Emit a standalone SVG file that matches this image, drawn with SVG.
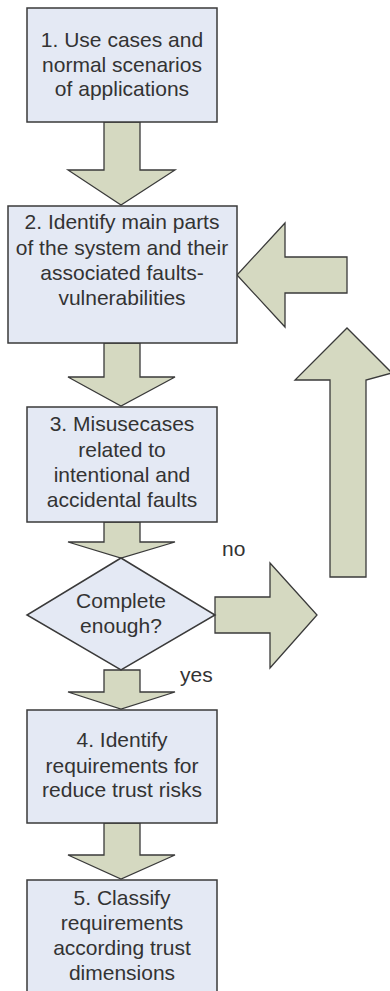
<svg xmlns="http://www.w3.org/2000/svg" width="390" height="991" viewBox="0 0 390 991">
<style>
.box{fill:#e4e9f4;stroke:#3a3a3a;stroke-width:1.5}
.arr{fill:#d5d9c1;stroke:#3a3a3a;stroke-width:1.3;stroke-linejoin:miter}
text{font-family:"Liberation Sans",Arial,sans-serif;font-size:21px;fill:#333;text-anchor:middle}
.lbl{font-size:21px;text-anchor:start}
</style>
<rect width="390" height="991" fill="#fff"/>
<g id="connectors">
<polygon class="arr" points="104,122 140,122 140,170 175,170 121,205 68,170 104,170"/>
<polygon class="arr" points="104,343 140,343 140,377 175,377 121,406 68,377 104,377"/>
<polygon class="arr" points="104,522 140,522 140,542 175,542 121,558 68,542 104,542"/>
<polygon class="arr" points="104,670 140,670 140,692 175,692 121,709 68,692 104,692"/>
<polygon class="arr" points="104,823 140,823 140,855 175,855 121,879 68,855 104,855"/>
<polygon class="arr" points="215,597 270,597 270,563 317,615 270,668 270,633 215,633"/>
<polygon class="arr" points="330,577 330,380 295,380 347,328 392,373 366,380 366,577"/>
<polygon class="arr" points="347,257 347,293 285,293 285,327 237,275 285,223 285,257"/>
</g>
<g id="node1">
<rect class="box" x="27" y="8" width="190" height="114"/>
<text x="122" y="47">1. Use cases and</text>
<text x="122" y="72">normal scenarios</text>
<text x="122" y="96">of applications</text>
</g>
<g id="node2">
<rect class="box" x="8" y="206" width="229" height="137"/>
<text x="122" y="229">2. Identify main parts</text>
<text x="122" y="255">of the system and their</text>
<text x="122" y="280">associated faults-</text>
<text x="122" y="305">vulnerabilities</text>
</g>
<g id="node3">
<rect class="box" x="27" y="407" width="190" height="115"/>
<text x="122" y="431">3. Misusecases</text>
<text x="122" y="457">related to</text>
<text x="122" y="482">intentional and</text>
<text x="122" y="507">accidental faults</text>
</g>
<g id="decision">
<polygon class="box" points="121,558 215,615 121,670 27,615"/>
<text x="121" y="608">Complete</text>
<text x="121" y="633">enough?</text>
</g>
<g id="labels">
<text class="lbl" x="222" y="556">no</text>
<text class="lbl" x="180" y="682">yes</text>
</g>
<g id="node4">
<rect class="box" x="27" y="710" width="190" height="113"/>
<text x="122" y="747">4. Identify</text>
<text x="122" y="773">requirements for</text>
<text x="122" y="797">reduce trust risks</text>
</g>
<g id="node5">
<rect class="box" x="27" y="880" width="190" height="120"/>
<text x="122" y="905">5. Classify</text>
<text x="122" y="930">requirements</text>
<text x="122" y="955">according trust</text>
<text x="122" y="980">dimensions</text>
</g>
</svg>
